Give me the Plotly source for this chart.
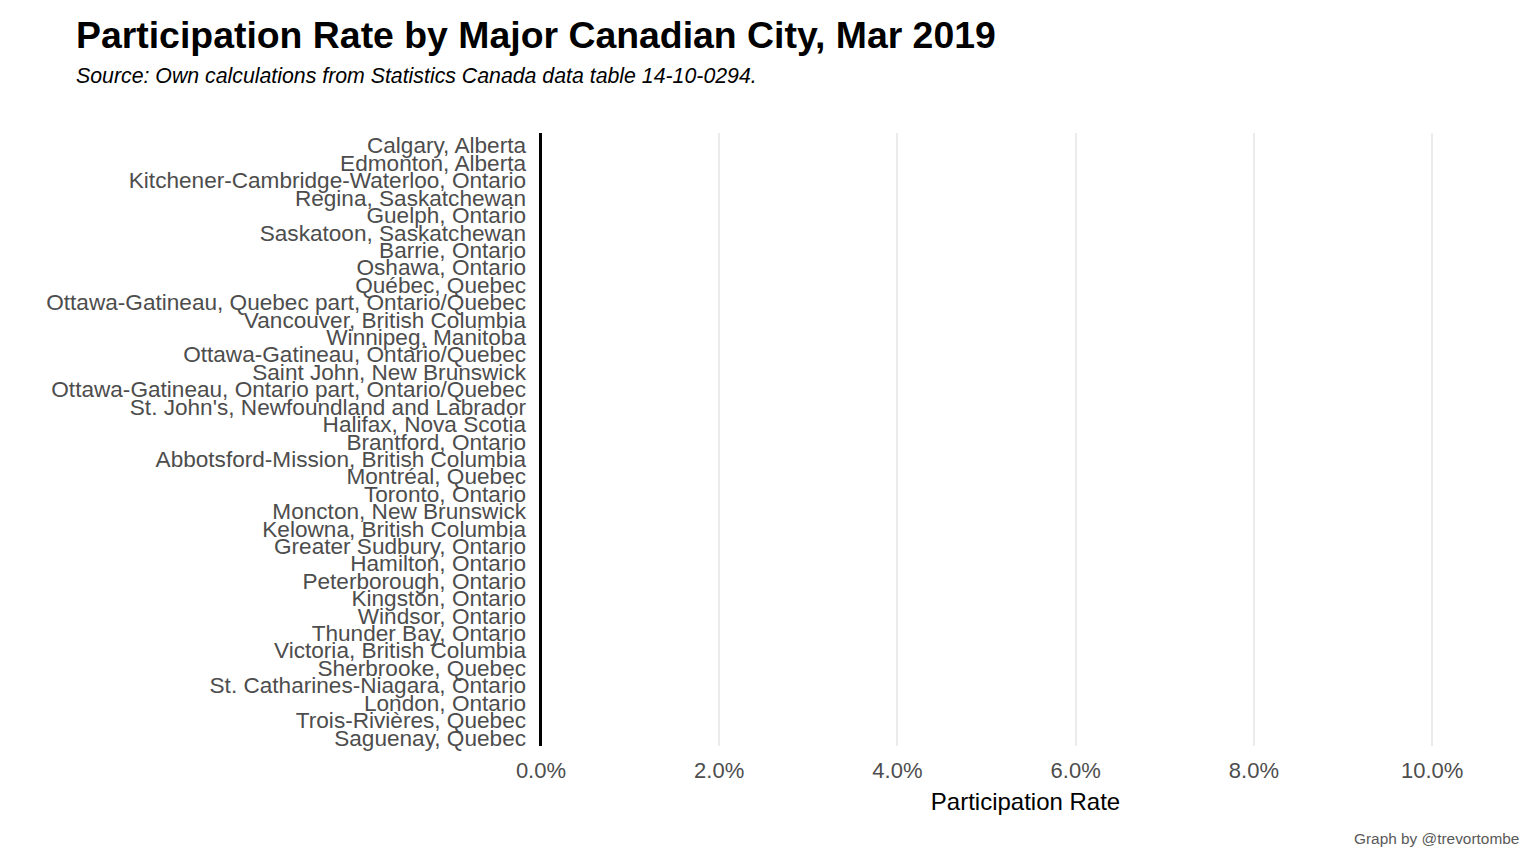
import plotly.graph_objects as go

cities = [
    "Calgary, Alberta",
    "Edmonton, Alberta",
    "Kitchener-Cambridge-Waterloo, Ontario",
    "Regina, Saskatchewan",
    "Guelph, Ontario",
    "Saskatoon, Saskatchewan",
    "Barrie, Ontario",
    "Oshawa, Ontario",
    "Québec, Quebec",
    "Ottawa-Gatineau, Quebec part, Ontario/Quebec",
    "Vancouver, British Columbia",
    "Winnipeg, Manitoba",
    "Ottawa-Gatineau, Ontario/Quebec",
    "Saint John, New Brunswick",
    "Ottawa-Gatineau, Ontario part, Ontario/Quebec",
    "St. John's, Newfoundland and Labrador",
    "Halifax, Nova Scotia",
    "Brantford, Ontario",
    "Abbotsford-Mission, British Columbia",
    "Montréal, Quebec",
    "Toronto, Ontario",
    "Moncton, New Brunswick",
    "Kelowna, British Columbia",
    "Greater Sudbury, Ontario",
    "Hamilton, Ontario",
    "Peterborough, Ontario",
    "Kingston, Ontario",
    "Windsor, Ontario",
    "Thunder Bay, Ontario",
    "Victoria, British Columbia",
    "Sherbrooke, Quebec",
    "St. Catharines-Niagara, Ontario",
    "London, Ontario",
    "Trois-Rivières, Quebec",
    "Saguenay, Quebec",
]
# No bars are visible in the reference: values are missing
values = [None] * len(cities)
x_ticks = [0, 2, 4, 6, 8, 10]

FONT = "Liberation Sans, Arial, sans-serif"

ML, MR, MT, MB = 522, 23, 125, 126
W, H = 1536, 864
PW, PH = W - ML - MR, H - MT - MB

fig = go.Figure()
fig.add_trace(go.Bar(x=values, y=cities, orientation="h",
                     marker_color="#1f77b4", showlegend=False))

fig.update_layout(
    width=W, height=H,
    margin=dict(l=ML, r=MR, t=MT, b=MB),
    paper_bgcolor="white", plot_bgcolor="white",
    font=dict(family=FONT, color="#4D4D4D"),
    title=dict(
        text="<b>Participation Rate by Major Canadian City, Mar 2019</b>",
        x=68 / W, xanchor="left", xref="container",
        y=1 - 27 / H, yanchor="middle", yref="container",
        font=dict(size=37.4, color="black", family=FONT),
    ),
    annotations=[
        dict(text="<i>Source: Own calculations from Statistics Canada data table 14-10-0294.</i>",
             xref="paper", yref="paper", x=(66 - ML) / PW, y=1 + (MT - 68) / PH,
             xanchor="left", yanchor="middle", showarrow=False,
             font=dict(size=21.3, color="black", family=FONT)),
        dict(text="Graph by @trevortombe",
             xref="paper", yref="paper", x=1, y=-(830 - (H - MB)) / PH,
             xanchor="right", yanchor="middle", showarrow=False,
             font=dict(size=15.4, color="#595959", family=FONT)),
    ],
    bargap=0.1,
)

fig.update_xaxes(
    range=[-0.123, 10.997],
    tickvals=x_ticks,
    ticktext=[f"{v:.1f}%" for v in x_ticks],
    showgrid=True, gridcolor="#EBEBEB", gridwidth=2,
    zeroline=True, zerolinecolor="black", zerolinewidth=3,
    showline=False, ticks="",
    tickfont=dict(size=22, color="#4D4D4D", family=FONT),
    ticklabelstandoff=9,
    title=dict(text="Participation Rate", font=dict(size=24, color="black", family=FONT),
               standoff=11),
    fixedrange=True,
)
fig.update_yaxes(
    categoryorder="array", categoryarray=cities[::-1],
    tickmode="array", tickvals=cities, ticktext=cities,
    range=[-0.48, len(cities) - 0.28],
    showgrid=False, zeroline=False, showline=False, ticks="",
    tickfont=dict(size=22.6, color="#4D4D4D", family=FONT),
    ticklabelstandoff=3,
    fixedrange=True,
)

fig.write_html("out.html")
